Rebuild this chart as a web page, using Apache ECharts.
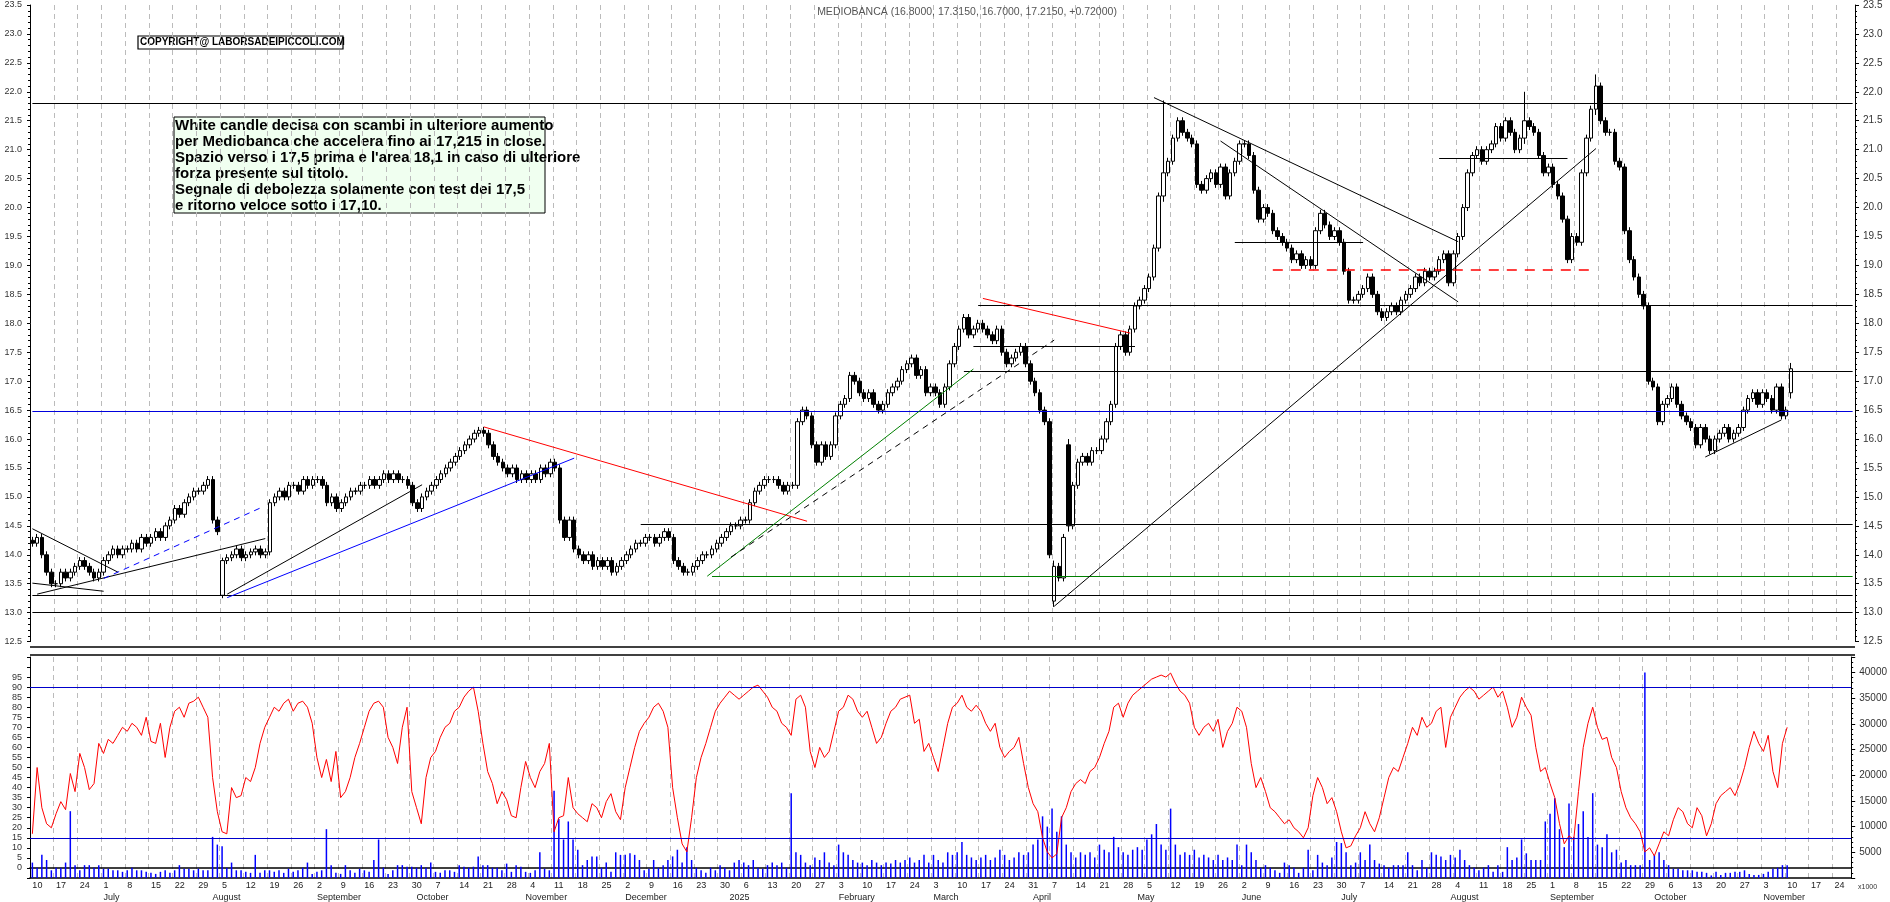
<!DOCTYPE html>
<html><head><meta charset="utf-8">
<script src="https://cdn.jsdelivr.net/npm/echarts@6/dist/echarts.min.js"></script>
<style>html,body{margin:0;padding:0;background:#fff}#c{width:1890px;height:902px}</style>
</head><body><div id="c"></div>
<script>
// ---- DATA (weekly groups of 5 trading days, from 2024-06-10) ----
const closeWeeks = [
[14.2,14.3,14.0,13.7,13.5],[13.5,13.7,13.6,13.7,13.8],[13.9,13.8,13.7,13.6,13.7],[13.9,14.0,14.1,14.0,14.1],
[14.1,14.2,14.1,14.3,14.2],[14.3,14.4,14.3,14.5,14.6],[14.8,14.7,14.9,15.0,15.1],[15.1,15.2,15.3,14.6,14.4],
[13.9,13.95,14.0,14.1,13.95],[14.0,14.05,14.1,14.0,14.05],[14.9,15.0,15.1,15.0,15.2],[15.2,15.1,15.3,15.2,15.3],
[15.3,15.2,14.9,15.0,14.8],[14.9,15.0,15.1,15.1,15.2],[15.2,15.3,15.2,15.3,15.4],[15.3,15.4,15.3,15.3,15.2],
[14.9,14.8,15.0,15.1,15.2],[15.3,15.4,15.5,15.6,15.7],[15.8,15.9,16.0,16.1,16.15],[16.1,15.9,15.7,15.6,15.5],
[15.4,15.5,15.3,15.4,15.3],[15.4,15.3,15.5,15.4,15.6],[15.5,14.6,14.3,14.6,14.1],[14.0,13.9,14.0,13.8,13.9],
[13.8,13.9,13.7,13.8,13.9],[14.0,14.1,14.2,14.2,14.3],[14.3,14.2,14.3,14.4,14.3],[13.9,13.8,13.7,13.7,13.8],
[13.9,14.0,14.0,14.1,14.2],[14.3,14.4,14.5,14.5,14.6],[14.6,14.9,15.1,15.2,15.3],[15.3,15.3,15.2,15.1,15.2],
[15.2,16.3,16.5,16.4,15.9],[15.6,15.9,15.7,15.9,16.4],[16.6,16.7,17.1,17.0,16.8],[16.7,16.8,16.6,16.5,16.6],
[16.8,16.9,17.0,17.2,17.3],[17.4,17.1,17.2,16.8,16.9],[16.8,16.6,16.9,17.3,17.6],[17.9,18.1,17.8,17.9,18.0],
[17.9,17.8,17.7,17.9,17.5],[17.3,17.4,17.5,17.6,17.3],[17.0,16.8,16.5,16.3,14.0],[13.8,13.6,14.3,14.5,15.2],
[15.6,15.7,15.6,15.8,15.8],[16.0,16.3,16.6,17.6,17.8],[17.5,17.9,18.3,18.4,18.6],[18.8,19.3,20.2,20.6,20.8],
[21.2,21.5,21.3,21.2,21.1],[20.4,20.3,20.5,20.6,20.4],[20.7,20.2,20.6,20.8,21.1],[21.1,20.9,20.3,19.8,20.0],
[19.9,19.6,19.5,19.4,19.3],[19.1,19.2,19.0,19.1,19.0],[19.6,19.9,19.7,19.5,19.6],[19.4,18.9,18.4,18.4,18.5],
[18.6,18.8,18.5,18.2,18.1],[18.2,18.3,18.2,18.4,18.5],[18.6,18.8,18.7,18.9,18.8],[18.9,19.1,19.2,18.7,19.2],
[19.5,20.0,20.6,20.9,21.0],[20.8,21.0,21.1,21.4,21.2],[21.5,21.3,21.0,21.2,21.5],[21.4,21.3,20.9,20.6,20.7],
[20.4,20.2,19.8,19.1,19.5],[19.4,20.6,21.2,21.7,22.1],[21.5,21.3,21.3,20.8,20.7],[19.6,19.1,18.8,18.5,18.3],
[17.0,16.9,16.3,16.6,16.7],[16.9,16.6,16.4,16.3,16.2],[15.9,16.2,16.0,15.8,16.0],[16.1,16.2,16.0,16.1,16.2],
[16.5,16.7,16.8,16.6,16.8],[16.7,16.5,16.9,16.4,16.5],[17.215]
];
const openOverrides = {40:13.3, 215:13.2, 218:15.9, 370:16.8};
const hlOverrides = {40:[13.95,13.25], 215:[13.9,13.1], 218:[16.0,14.4], 238:[21.85,20.1], 314:[22.0,21.1], 329:[22.3,21.6], 370:[17.315,16.7]};
const rsiWeeks = [
[17,50,30,22,20],[27,33,29,47,38],[57,50,39,42,62],[57,64,62,66,70],[68,72,70,66,75],[63,62,72,55,70],
[78,80,75,82,83],[85,80,75,45,28],[18,17,40,35,36],[45,43,50,62,70],[75,80,78,82,84],[78,82,83,80,72],
[55,45,54,43,58],[35,38,45,55,62],[70,78,82,83,80],[65,60,52,70,80],[38,30,22,45,55],[58,65,70,72,78],
[80,85,88,90,78],[62,48,42,32,38],[34,26,25,40,53],[45,40,48,52,62],[18,25,26,45,30],[27,25,23,32,30],
[25,33,37,28,24],[40,50,60,68,72],[75,80,82,78,70],[40,25,12,8,25],[45,55,62,70,78],[82,85,88,86,84],
[86,88,90,91,88],[85,80,78,72,70],[66,84,86,80,58],[50,60,55,58,68],[78,80,86,84,78],[75,78,70,62,65],
[72,78,80,84,85],[86,72,74,58,62],[55,48,60,72,80],[82,86,80,78,81],[78,72,68,72,60],[55,58,60,65,52],
[40,32,28,15,8],[5,7,25,30,38],[42,44,42,48,50],[55,62,68,80,82],[75,82,86,88,90],[92,94,95,96,95],
[97,92,88,86,82],[70,66,70,72,68],[74,60,68,72,80],[78,70,52,40,45],[38,30,28,25,22],[24,20,18,15,20],
[36,45,40,32,35],[28,18,10,11,16],[20,28,22,18,25],[35,45,50,48,55],[62,70,66,75,70],[72,78,80,60,75],
[80,85,88,90,88],[84,86,88,90,85],[88,80,70,75,85],[80,76,60,48,50],[42,35,22,12,16],[14,38,60,72,80],
[70,64,65,55,50],[38,30,25,22,18],[8,10,6,12,18],[16,24,30,28,22],[20,30,26,16,22],[32,36,38,40,36],
[42,50,60,68,62],[58,66,48,40,62],[70]
];
const volWeeks = [
[3000,2000,4500,3500,1500],[2000,2000,3000,13000,2500],[1500,2500,2500,2000,2500],[1800,1800,1500,1500,1200],
[1500,2000,1500,1500,1200],[1000,800,1200,1500,1000],[1500,2500,1800,1800,1500],[1800,1500,1500,8000,6500],
[6200,2000,3000,1500,1500],[1200,1000,4500,1000,1500],[1500,1200,1500,1000,1800],[1200,1500,2000,3000,800],
[1200,1500,9500,2500,1000],[800,2500,1500,1000,1800],[1500,1200,3500,7500,2000],[800,1500,2500,2500,2200],
[2200,2000,2500,2000,3000],[1200,1000,1500,1500,1200],[2500,2200,2000,2200,4200],[2500,2500,2000,2000,1500],
[2800,1200,2500,2200,1200],[1000,1500,5000,1800,1500],[17000,11500,7500,11000,7500],[5500,2500,3500,4200,4200],
[2000,3000,1200,5000,4500],[4500,4800,4500,3500,1500],[1800,3500,2000,2500,3500],[4200,5500,3000,6000,3500],
[2000,1500,1000,2000,1500],[2500,2000,1500,3000,3500],[3000,2500,3500,2000,1800],[2500,3000,2500,3000,2000],
[16500,5000,4500,3000,2500],[4000,3500,5000,3000,2500],[6500,5000,4500,3500,3000],[3000,2500,3500,3000,2500],
[3000,2800,3500,3000,3500],[4000,3000,3500,4500,3000],[4500,3500,3000,5000,4500],[5000,7000,4500,4000,3500],
[4000,4500,3500,4000,5500],[4500,3500,4000,5000,4500],[5000,6500,7500,12000,10000],[13500,9000,12000,6500,5000],
[4000,5000,4500,5000,4000],[6500,5500,5000,8000,6000],[5000,4500,5500,6000,5500],[7500,8500,10500,6500,5500],
[13500,6500,4500,5000,4500],[5500,4000,4500,4000,3500],[4500,3500,4000,3500,6500],[2500,6500,5000,3500,2000],
[2500,2000,1500,1000,3000],[2500,2000,1000,2000,5500],[1500,4500,3000,2500,4000],[7000,6800,5000,2500,3000],
[5000,3500,6500,3500,2800],[2500,2000,2500,2500,2500],[5000,2500,1500,3500,2000],[5000,4500,4200,3500,4500],
[4000,5500,3500,2500,2000],[1500,2000,2500,1200,2500],[1200,6000,3500,4000,7500],[4800,3500,3500,3500,11000],
[12500,15500,9500,6000,14500],[8000,10500,13000,8000,16500],[6500,6000,8500,5000,5500],[3000,3500,2500,2500,2500],
[40000,3500,4500,5000,3500],[2500,1800,1800,1500,1500],[1500,1200,1200,1000,500],[1200,600,1000,1000,1200],
[1200,1500,800,600,600],[800,1200,1800,2000,2500],[2500]
];
const priceTicks = {min:12.5, max:23.5, interval:0.5};
const hLines = [ // [fromIndex, value, toIndex|null(end), color, width, dashed]
 [0,21.8,null,'#000',1.2,false],[199,18.32,null,'#000',1.2,false],[196,17.17,null,'#000',1.2,false],
 [0,16.48,null,'#0000dd',1.2,false],[127.5,14.53,null,'#000',1.2,false],[143,13.63,null,'#008000',1.2,false],
 [0,13.3,null,'#000',1.2,false],[0,13.0,null,'#000',1.2,false],[198,17.61,232,'#000',1.2,false],
 [252.8,19.4,279.7,'#000',1.2,false],[295.5,20.86,323.1,'#000',1.2,false],[261.4,18.93,329.4,'#ff0000',1.5,true]
];
const trendLines = [ // [x1,y1,x2,y2,color,width,dashed]
 [0,14.45,18,13.7,'#000',1,false],[1,13.32,49,14.28,'#000',1,false],[0,13.51,15,13.37,'#000',1,false],
 [41.4,13.32,82.4,15.21,'#000',1,false],[40.5,13.26,114,15.67,'#0000ff',1,false],[95,16.21,163,14.58,'#ff0000',1,false],
 [142,13.63,197.6,17.21,'#008000',1,false],[199.7,18.43,231.4,17.83,'#ff0000',1,false],[215.3,13.11,329.4,21.02,'#000',1,false],
 [235.8,21.9,299.6,19.41,'#000',1,false],[250,21.15,300.3,18.37,'#000',1,false],[351.7,15.69,368.4,16.33,'#000',1,false],
 [14.8,13.59,47.6,14.81,'#0000ff',1,true],[147.4,13.96,214.6,17.71,'#000',1,true],[21,12.33,225,14.5,'#3cb371',3,false]
];
const rsiLevels = [15,90];
const TOTAL = 384;
const monthNames = ['January','February','March','April','May','June','July','August','September','October','November','December'];

// ---- build ----
const dates = [];
{ let d = new Date(Date.UTC(2024,5,10));
  while (dates.length < TOTAL) { const w = d.getUTCDay(); if (w>0 && w<6) dates.push(new Date(d)); d.setUTCDate(d.getUTCDate()+1); } }
const cats = dates.map(d=>d.toISOString().slice(0,10));
const closes = closeWeeks.flat(), rsi = rsiWeeks.flat(), vol = volWeeks.flat();
const candle = [];
for (let i=0;i<TOTAL;i++){
  if (i>=closes.length){candle.push('-');continue;}
  const c = closes[i];
  const o = openOverrides[i]!==undefined ? openOverrides[i] : (i>0?closes[i-1]:c+0.05);
  let h = Math.max(o,c)+0.06, l = Math.min(o,c)-0.06;
  if (hlOverrides[i]) { h = hlOverrides[i][0]; l = hlOverrides[i][1]; }
  candle.push([o,c,l,h]);
}
const pad = a => a.concat(Array(TOTAL-a.length).fill('-'));
const mk = [];
hLines.forEach(([x1,v,x2,col,w,d])=>mk.push([{coord:[x1,v],lineStyle:{color:col,width:w,type:d?[10,8]:'solid'}},{coord:[x2===null?TOTAL-1:x2,v]}]));
trendLines.forEach(([x1,y1,x2,y2,col,w,d])=>mk.push([{coord:[x1,y1],lineStyle:{color:col,width:w,type:d?[6,5]:'solid'}},{coord:[x2,y2]}]));
const isMon = i => i%5===0;
const isMonthStart = i => i>0 && dates[i].getUTCMonth()!==dates[i-1].getUTCMonth();
const FONT = 'Liberation Sans';
const axisTxt = {color:'#333', fontSize:10, fontFamily:FONT};
const chart = echarts.init(document.getElementById('c'));
chart.setOption({
  animation:false, backgroundColor:'#fff',
  title:{text:'MEDIOBANCA (16.8000, 17.3150, 16.7000, 17.2150, +0.72000)', left:962, top:2, textAlign:'center',
    textStyle:{fontSize:10.5, fontWeight:'normal', color:'#555', fontFamily:FONT}},
  grid:[{left:30,right:35,top:-14,height:655.6},{left:30,right:35,top:657,bottom:21}],
  xAxis:[
    {type:'category',gridIndex:0,data:cats,axisLabel:{show:false},axisTick:{show:false},axisLine:{show:false},
     splitLine:{show:true,interval:isMon,lineStyle:{color:'#bbb',type:[5,4]}}},
    {type:'category',gridIndex:1,data:cats,axisLine:{lineStyle:{color:'#000',width:1.5}},
     axisTick:{interval:isMon,lineStyle:{color:'#000'}},
     axisLabel:{interval:isMon,formatter:v=>String(+v.slice(8)),fontSize:9,color:'#222',fontFamily:FONT,align:'left',margin:3},
     splitLine:{show:true,interval:isMon,lineStyle:{color:'#bbb',type:[5,4]}}},
    {type:'category',gridIndex:1,data:cats,position:'bottom',offset:13,axisLine:{lineStyle:{color:'#000',width:1.5}},
     axisTick:{interval:isMonthStart,length:12,inside:false,lineStyle:{color:'#000'}},
     axisLabel:{interval:isMonthStart,formatter:v=>{const m=+v.slice(5,7)-1;return m===0?v.slice(0,4):monthNames[m];},fontSize:9,color:'#222',fontFamily:FONT,align:'left',margin:2}}
  ],
  yAxis:[
    {type:'value',gridIndex:0,position:'left',...priceTicks,axisLabel:{...axisTxt,fontSize:9,formatter:v=>v.toFixed(1)},
     axisLine:{show:true,lineStyle:{color:'#000'}},axisTick:{show:true,length:3},minorTick:{show:true,splitNumber:5,length:2},splitLine:{show:false}},
    {type:'value',gridIndex:0,position:'right',...priceTicks,axisLabel:{...axisTxt,formatter:v=>v.toFixed(1)},
     axisLine:{show:true,lineStyle:{color:'#000'}},axisTick:{show:true,length:4},minorTick:{show:true,splitNumber:5,length:2},splitLine:{show:false}},
    {type:'value',gridIndex:1,position:'left',min:-5,max:105,interval:5,axisLabel:{...axisTxt,fontSize:9,formatter:v=>(v>=0&&v<=95)?String(v):''},
     axisLine:{show:true,lineStyle:{color:'#000'}},axisTick:{show:true,length:3},splitLine:{show:false}},
    {type:'value',gridIndex:1,position:'right',min:0,max:43000,interval:5000,axisLabel:{...axisTxt,formatter:v=>(v>0&&v<=40000)?String(v):''},
     axisLine:{show:true,lineStyle:{color:'#000'}},axisTick:{show:true,length:4},minorTick:{show:true,splitNumber:5,length:2},splitLine:{show:false}}
  ],
  series:[
    {type:'candlestick',xAxisIndex:0,yAxisIndex:1,data:candle,barWidth:4,
     itemStyle:{color:'#fff',color0:'#000',borderColor:'#000',borderColor0:'#000',borderWidth:1},
     markLine:{silent:true,symbol:'none',label:{show:false},data:mk}},
    {type:'bar',xAxisIndex:1,yAxisIndex:3,data:pad(vol),barWidth:1.5,itemStyle:{color:'#0000ff'}},
    {type:'line',xAxisIndex:1,yAxisIndex:2,data:pad(rsi),symbol:'none',lineStyle:{color:'#ff0000',width:1},
     markLine:{silent:true,symbol:'none',label:{show:false},lineStyle:{color:'#0000cc',width:1.2,type:'solid'},
       data:rsiLevels.map(v=>({yAxis:v}))}}
  ],
  graphic:[
    {type:'line',shape:{x1:30,y1:647,x2:1855,y2:647},style:{stroke:'#000',lineWidth:1.5}},
    {type:'line',shape:{x1:30,y1:655,x2:1855,y2:655},style:{stroke:'#000',lineWidth:1.5}},
    {type:'rect',shape:{x:138,y:36,width:205,height:13},style:{fill:'#fff',stroke:'#000',lineWidth:1.2}},
    {type:'text',x:140,y:37.5,style:{text:'COPYRIGHT@ LABORSADEIPICCOLI.COM',fontSize:10,fontWeight:'bold',fontFamily:FONT,fill:'#000'}},
    {type:'rect',shape:{x:174,y:117,width:371,height:96},style:{fill:'#f0fff0',stroke:'#000',lineWidth:1}},
    {type:'text',x:175,y:118,style:{text:'White candle decisa con scambi in ulteriore aumento\nper Mediobanca che accelera fino ai 17,215 in close.\nSpazio verso i 17,5 prima e l\'area 18,1 in caso di ulteriore\nforza presente sul titolo.\nSegnale di debolezza solamente con test dei 17,5\ne ritorno veloce sotto i 17,10.',
      fontSize:15,fontWeight:'bold',fontFamily:FONT,lineHeight:16,fill:'#000'}},
    {type:'text',x:1858,y:884,style:{text:'x1000',fontSize:7,fontFamily:FONT,fill:'#333'}}
  ]
});
</script></body></html>
